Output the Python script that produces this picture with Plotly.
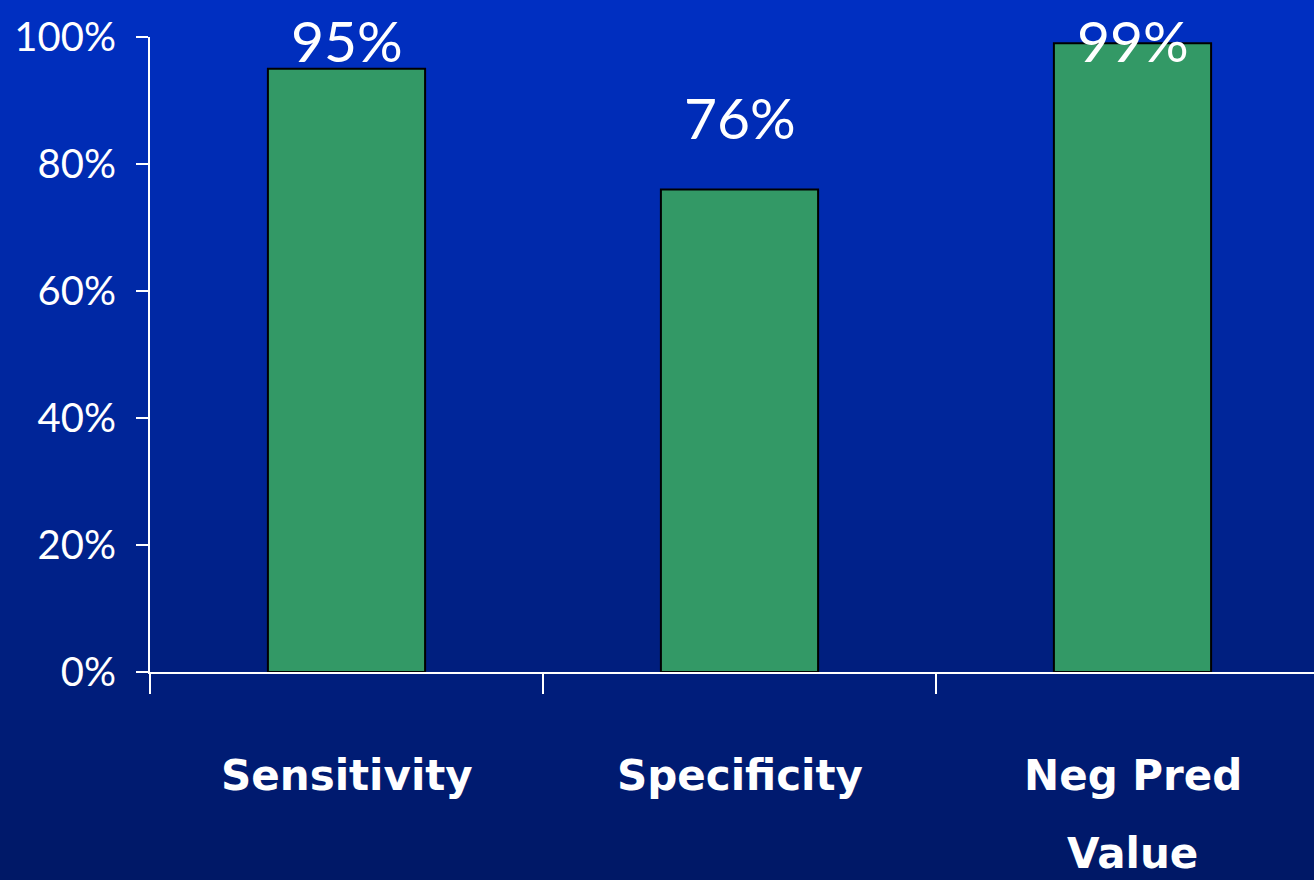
import plotly.graph_objects as go

# Test performance figures
categories = ["Sensitivity", "Specificity", "Neg Pred<br>Value"]
values = [95, 76, 99]
y_ticks = [0, 20, 40, 60, 80, 100]
y_tick_labels = ["0%", "20%", "40%", "60%", "80%", "100%"]

W, H = 1314, 880
M_L, M_R, M_T, M_B = 150, 0, 37, 208
PLOT_H = H - M_T - M_B

BAR_COLOR = "#339966"
FONT = "Comic Sans MS, Lato, sans-serif"
FONT_BOLD = "Comic Sans MS, DejaVu Sans, sans-serif"

fig = go.Figure()

fig.add_trace(go.Bar(
    x=categories,
    y=values,
    width=0.4,
    marker=dict(color=BAR_COLOR, line=dict(color="black", width=2)),
    hoverinfo="skip",
))

# Vertical gradient background built from thin strips
top = (0, 47, 194)
mid = (0, 37, 152)
bot = (0, 24, 102)
n_strips = 88
shapes = []
for i in range(n_strips):
    t = i / (n_strips - 1)
    if t < 0.5:
        a, b, u = top, mid, t / 0.5
    else:
        a, b, u = mid, bot, (t - 0.5) / 0.5
    c = tuple(round(a[k] + (b[k] - a[k]) * u) for k in range(3))
    y_top_px = i * H / n_strips
    y_bot_px = (i + 1) * H / n_strips + 1
    # convert page pixels to paper coordinates
    y0 = (H - M_B - y_bot_px) / PLOT_H
    y1 = (H - M_B - y_top_px) / PLOT_H
    shapes.append(dict(
        type="rect", xref="paper", yref="paper",
        x0=-M_L / (W - M_L - M_R), x1=1.0, y0=y0, y1=y1,
        fillcolor="rgb(%d,%d,%d)" % c, line=dict(width=0), layer="below",
    ))

# Value labels over each bar (vertical offsets in pixels)
label_shift = [29, 72, 3]
annotations = []
for i, v in enumerate(values):
    annotations.append(dict(
        x=categories[i], y=v, xref="x", yref="y", text=f"{v}%",
        showarrow=False, yanchor="middle", yshift=label_shift[i],
        font=dict(family=FONT, size=57, color="white"),
    ))

# Category labels under the axis, one annotation per line
line_gap = 78
for cat in categories:
    for j, ln in enumerate(cat.split("<br>")):
        annotations.append(dict(
            x=cat, y=0, xref="x", yref="y", text=f"<b>{ln}</b>",
            showarrow=False, yanchor="middle",
            yshift=-(775 - 672) - j * line_gap,
            font=dict(family=FONT_BOLD, size=42, color="white"),
        ))

fig.update_layout(
    width=W, height=H,
    margin=dict(l=M_L, r=M_R, t=M_T, b=M_B),
    paper_bgcolor="rgb(0,37,152)",
    plot_bgcolor="rgba(0,0,0,0)",
    showlegend=False,
    shapes=shapes,
    annotations=annotations,
    xaxis=dict(
        type="category",
        range=[-0.5, 2.5 - 15 / 393],
        showticklabels=False,
        ticks="outside", tickson="boundaries", ticklen=20, tickwidth=2,
        tickcolor="white",
        showline=True, linecolor="white", linewidth=2,
        showgrid=False, zeroline=False,
    ),
    yaxis=dict(
        range=[0, 100],
        tickmode="array", tickvals=y_ticks, ticktext=y_tick_labels,
        ticks="outside", ticklen=12, tickwidth=2, tickcolor="white",
        ticklabelstandoff=12,
        tickfont=dict(family=FONT, size=40, color="white"),
        showline=True, linecolor="white", linewidth=2,
        showgrid=False, zeroline=False,
    ),
)

fig.write_html("out.html")
